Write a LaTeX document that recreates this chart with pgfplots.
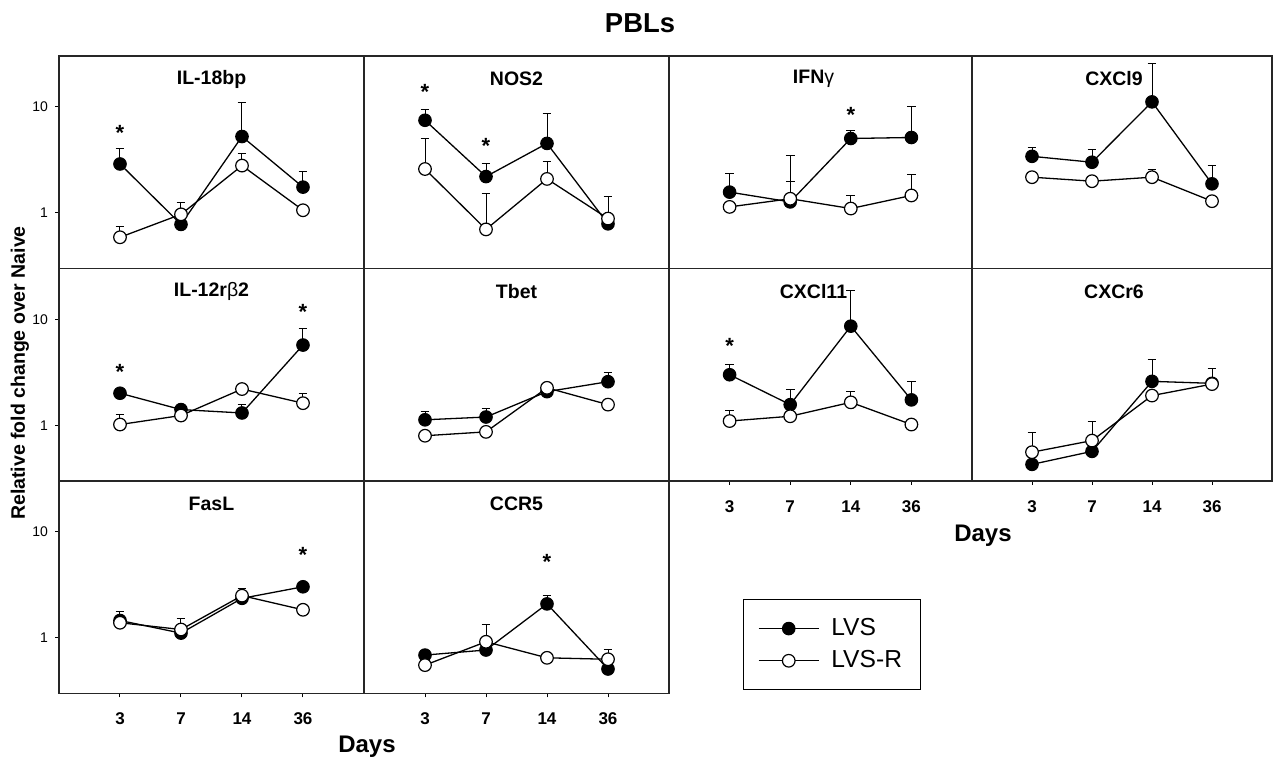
\documentclass[border=0pt]{standalone}
\usepackage{fontspec}
\setmainfont{Liberation Sans}
\usepackage{pgfplots}
\usepackage{pgfplotstable}
\pgfplotsset{compat=1.18}

% x = day index (0:3, 1:7, 2:14, 3:36); l/lt = LVS mean / top of error bar; r/rt = LVS-R
\pgfplotstableread{
x l lt r rt
0 2.89 4.05 0.59 0.75
1 0.78 0.78 0.97 1.25
2 5.24 11.0 2.79 3.64
3 1.75 2.45 1.06 1.06
}\tILeighteen
\pgfplotstableread{
x l lt r rt
0 7.45 9.44 2.59 5.06
1 2.20 2.93 0.70 1.51
2 4.51 8.65 2.09 3.06
3 0.79 0.79 0.885 1.43
}\tNOS
\pgfplotstableread{
x l lt r rt
0 1.57 2.33 1.14 1.14
1 1.27 1.97 1.36 3.45
2 5.02 5.92 1.10 1.46
3 5.13 10.1 1.46 2.30
}\tIFN
\pgfplotstableread{
x l lt r rt
0 3.41 4.14 2.17 2.17
1 3.00 3.99 1.99 1.99
2 11.1 25.4 2.17 2.59
3 1.88 2.79 1.29 1.29
}\tCXCLnine
\pgfplotstableread{
x l lt r rt
0 2.01 2.01 1.02 1.26
1 1.41 1.41 1.24 1.24
2 1.31 1.56 2.20 2.20
3 5.71 8.19 1.62 1.98
}\tILtwelve
\pgfplotstableread{
x l lt r rt
0 1.13 1.36 0.80 0.80
1 1.20 1.45 0.87 0.87
2 2.08 2.08 2.26 2.26
3 2.58 3.15 1.57 1.57
}\tTbet
\pgfplotstableread{
x l lt r rt
0 3.00 3.77 1.10 1.38
1 1.57 2.20 1.22 1.22
2 8.60 18.5 1.65 2.10
3 1.74 2.58 1.02 1.02
}\tCXCLeleven
\pgfplotstableread{
x l lt r rt
0 0.43 0.43 0.56 0.855
1 0.57 0.57 0.72 1.10
2 2.60 4.14 1.91 1.91
3 2.49 3.44 2.45 2.45
}\tCXCRsix
\pgfplotstableread{
x l lt r rt
0 1.46 1.77 1.39 1.39
1 1.11 1.11 1.20 1.54
2 2.36 2.95 2.50 2.50
3 3.03 3.03 1.84 1.84
}\tFasL
\pgfplotstableread{
x l lt r rt
0 0.69 0.69 0.555 0.555
1 0.77 0.77 0.92 1.33
2 2.09 2.50 0.65 0.65
3 0.51 0.51 0.63 0.78
}\tCCR

\pgfplotsset{
  every axis/.append style={
    scale only axis, height=106.25pt, anchor=north west,
    ymode=log, ymin=0.3, ymax=30, xmin=-1, xmax=4,
    axis line style={line width=0.6pt, black!85},
    tick style={black, line width=0.5pt}, tick align=outside,
    major tick length=2pt, xtick pos=bottom, ytick pos=left,
    yminorticks=false, xtick=\empty, ytick=\empty, clip=false,
    title style={at={(0.5,1)}, anchor=center, yshift=-17.5pt,
      font=\bfseries\fontsize{9.75}{11}\selectfont},
  },
  /pgfplots/withYlabels/.style={ytick={1,10}, yticklabels={1,10},
    yticklabel style={font=\fontsize{7}{8}\selectfont}},
  /pgfplots/withXlabels/.style={xtick={0,1,2,3}, xticklabels={3,7,14,36},
    xticklabel style={font=\bfseries\fontsize{8.5}{10}\selectfont,
      text height=6.2pt, text depth=0pt, yshift=-3.8pt}},
  /pgfplots/lvsStyle/.style={black, line width=0.65pt, mark=*, mark size=3.15pt,
    mark options={fill=black, line width=0.5pt}},
  /pgfplots/lvsrStyle/.style={black, line width=0.65pt, mark=*, mark size=3.15pt,
    mark options={fill=white, line width=0.6pt}},
}

\newcommand\plotseries[4]{%
  \addplot[forget plot, draw=none, no markers,
    error bars/.cd, y dir=plus, y explicit,
    error bar style={draw=black, line width=0.5pt},
    error mark options={rotate=90, mark size=2.2pt, draw=black, line width=0.5pt}]
    table[x=x, y=#2, y error plus expr=\thisrow{#3}-\thisrow{#2}] {#1};
  \addplot[#4] table[x=x, y=#2] {#1};
}
\newcommand\plotpanel[1]{\plotseries{#1}{l}{lt}{lvsStyle}\plotseries{#1}{r}{rt}{lvsrStyle}}

\tikzset{sigstar/.style={font=\bfseries\fontsize{11}{11}\selectfont, yshift=-2.2pt}}

\begin{document}
\begin{tikzpicture}
\path[use as bounding box] (0pt,0pt) rectangle (637.5pt,-379.5pt);

\node[font=\bfseries\fontsize{13.7}{16}\selectfont] at (320pt,-11.5pt) {PBLs};
\node[rotate=90, font=\bfseries\fontsize{9.75}{11}\selectfont] at (10pt,-186.5pt)
  {Relative fold change over Naive};
\node[font=\bfseries\fontsize{12}{14}\selectfont] at (183.5pt,-373.5pt) {Days};
\node[font=\bfseries\fontsize{12}{14}\selectfont] at (491.5pt,-268pt) {Days};

% row 1
\begin{axis}[withYlabels, width=152.5pt, at={(29.5pt,-28pt)}, title={IL-18bp}]
\plotpanel{\tILeighteen}
\node[sigstar] at (axis cs:0,6.27) {*};
\end{axis}
\begin{axis}[width=152.5pt, at={(182pt,-28pt)}, title={NOS2}]
\plotpanel{\tNOS}
\node[sigstar] at (axis cs:0,15.1) {*};
\node[sigstar] at (axis cs:1,4.71) {*};
\end{axis}
\begin{axis}[width=151.5pt, at={(334.5pt,-28pt)}, title={IFN\textmd{γ}},
  title style={xshift=-3.5pt}]
\plotpanel{\tIFN}
\node[sigstar] at (axis cs:2,9.3) {*};
\end{axis}
\begin{axis}[width=150pt, at={(486pt,-28pt)}, title={CXCl9},
  title style={xshift=-4pt}]
\plotpanel{\tCXCLnine}
\end{axis}

% row 2
\begin{axis}[withYlabels, width=152.5pt, at={(29.5pt,-134.25pt)}, title={IL-12r\textmd{β}2}]
\plotpanel{\tILtwelve}
\node[sigstar] at (axis cs:0,3.51) {*};
\node[sigstar] at (axis cs:3,12.9) {*};
\end{axis}
\begin{axis}[width=152.5pt, at={(182pt,-134.25pt)}, title={Tbet}]
\plotpanel{\tTbet}
\end{axis}
\begin{axis}[withXlabels, width=151.5pt, at={(334.5pt,-134.25pt)}, title={CXCl11},
  title style={xshift=-3.5pt}]
\plotpanel{\tCXCLeleven}
\node[sigstar] at (axis cs:0,6.2) {*};
\end{axis}
\begin{axis}[withXlabels, width=150pt, at={(486pt,-134.25pt)}, title={CXCr6},
  title style={xshift=-4pt}]
\plotpanel{\tCXCRsix}
\end{axis}

% row 3
\begin{axis}[withYlabels, withXlabels, width=152.5pt, at={(29.5pt,-240.5pt)}, title={FasL}]
\plotpanel{\tFasL}
\node[sigstar] at (axis cs:3,6.59) {*};
\end{axis}
\begin{axis}[withXlabels, width=152.5pt, at={(182pt,-240.5pt)}, title={CCR5},
  legend style={at={(1.2426,0.4447)}, anchor=north west, draw=black,
    line width=0.5pt, inner xsep=7.3pt, inner ysep=7.5pt, row sep=2pt,
    font=\fontsize{12.3}{14}\selectfont,
    /tikz/every odd column/.append style={column sep=4pt}},
  legend cell align=left,
  legend image code/.code={\draw[mark repeat=2, mark phase=2, #1]
    plot coordinates {(0pt,0pt) (15pt,0pt) (30pt,0pt)};}]
\plotpanel{\tCCR}
\node[sigstar] at (axis cs:2,5.71) {*};
\legend{LVS, LVS-R}
\end{axis}
\end{tikzpicture}
\end{document}
